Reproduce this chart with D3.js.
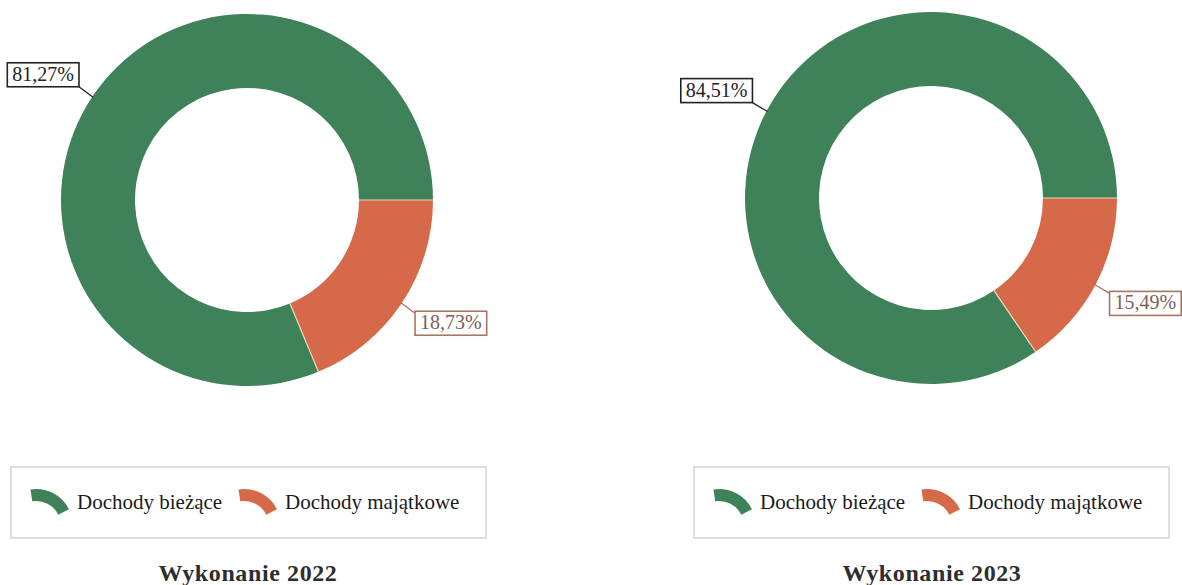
<!DOCTYPE html>
<html>
<head>
<meta charset="utf-8">
<script src="https://cdn.jsdelivr.net/npm/d3@7"></script>
<style>
  body { margin: 0; background: #fff; }
  svg { display: block; }
</style>
</head>
<body>
<svg id="chart" width="1182" height="585"></svg>
<script>
// data
const categories = ["Dochody bieżące", "Dochody majątkowe"]
const years = ["2022", "2023"]
const shares2022 = [81.27, 18.73]
const shares2023 = [84.51, 15.49]
const titlePrefix = "Wykonanie"

const colors = ["#3f8259", "#d5694a"]
const labelStroke = ["#222", "#a87565"]
const labelText = ["#222", "#7d6058"]

const svg = d3.select("#chart")
const serif = "'Liberation Serif', 'Times New Roman', serif"

const fmt = v => v.toFixed(2).replace(".", ",") + "%"

const panels = [
  { cx: 247, cy: 200, values: shares2022, year: years[0], legendX: 11 },
  { cx: 931, cy: 198, values: shares2023, year: years[1], legendX: 694 }
]

const outerR = 186
const innerR = 112

panels.forEach(p => drawPanel(p))

function drawPanel(p) {
  const g = svg.append("g").attr("transform", `translate(${p.cx},${p.cy})`)
  const total = d3.sum(p.values)
  // first slice ends at 3 o'clock, second slice follows clockwise
  const start = Math.PI / 2 - 2 * Math.PI * p.values[0] / total
  const pie = d3.pie().sort(null).startAngle(start).endAngle(start + 2 * Math.PI)
  const arcs = pie(p.values)
  const arc = d3.arc().innerRadius(innerR).outerRadius(outerR)

  g.selectAll("path.slice")
    .data(arcs)
    .enter().append("path")
    .attr("class", "slice")
    .attr("d", arc)
    .attr("fill", (d, i) => colors[i])

  // thin light separators between slices
  arcs.forEach(d => {
    const a = d.startAngle
    g.append("line")
      .attr("x1", Math.sin(a) * innerR).attr("y1", -Math.cos(a) * innerR)
      .attr("x2", Math.sin(a) * outerR).attr("y2", -Math.cos(a) * outerR)
      .attr("stroke", "#eadcb4").attr("stroke-width", 1.2)
  })

  // labels with leader lines
  arcs.forEach((d, i) => {
    const mid = (d.startAngle + d.endAngle) / 2
    const sx = Math.sin(mid), sy = -Math.cos(mid)
    const x0 = sx * (outerR - 1), y0 = sy * (outerR - 1)
    const x1 = sx * (outerR + 16), y1 = sy * (outerR + 18)
    g.append("line")
      .attr("x1", x0).attr("y1", y0).attr("x2", x1).attr("y2", y1)
      .attr("stroke", labelStroke[i]).attr("stroke-width", 1.3)

    const lg = g.append("g")
    const txt = lg.append("text")
      .attr("font-family", serif)
      .attr("font-size", 20)
      .attr("fill", labelText[i])
      .text(fmt(p.values[i]))
    const w = txt.node().getComputedTextLength() + 10
    const h = 24
    const bx = sx < 0 ? x1 - w : x1
    const by = sy < 0 ? y1 - h : y1 - 2
    lg.insert("rect", "text")
      .attr("x", bx).attr("y", by).attr("width", w).attr("height", h)
      .attr("fill", "#fff")
      .attr("stroke", labelStroke[i]).attr("stroke-width", 1.6)
    txt.attr("x", bx + 5).attr("y", by + h - 6)
  })

  // legend
  const lgX = p.legendX, lgY = 467
  svg.append("rect")
    .attr("x", lgX).attr("y", lgY).attr("width", 475).attr("height", 71)
    .attr("fill", "#fff").attr("stroke", "#d4d4d4").attr("stroke-width", 1.5)

  const symArc = d3.arc().innerRadius(25).outerRadius(37).startAngle(-0.15).endAngle(1.1)
  const itemX = [lgX + 25, lgX + 233]
  categories.forEach((c, i) => {
    svg.append("path")
      .attr("d", symArc())
      .attr("transform", `translate(${itemX[i]},${lgY + 59})`)
      .attr("fill", colors[i])
    svg.append("text")
      .attr("x", itemX[i] + 41)
      .attr("y", lgY + 42)
      .attr("font-family", serif)
      .attr("font-size", 21)
      .attr("fill", "#1a1a1a")
      .text(c)
  })

  // title
  svg.append("text")
    .attr("x", p.cx + 1)
    .attr("y", 581)
    .attr("text-anchor", "middle")
    .attr("font-family", serif)
    .attr("font-weight", "bold")
    .attr("font-size", 24)
    .attr("letter-spacing", 0.6)
    .attr("fill", "#2e2e2e")
    .text(titlePrefix + " " + p.year)
}
</script>
</body>
</html>
